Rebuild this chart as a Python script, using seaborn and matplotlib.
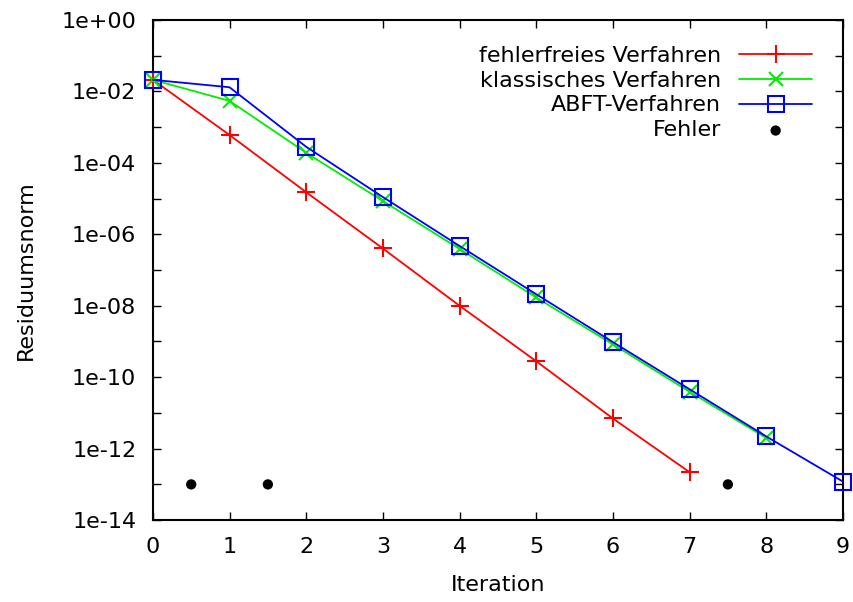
import numpy as np
import pandas as pd
import seaborn as sns
import matplotlib
matplotlib.use("Agg")
import matplotlib.pyplot as plt
from matplotlib.ticker import FixedLocator, FuncFormatter

# Data
iter_fehlerfrei = [0, 1, 2, 3, 4, 5, 6, 7]
res_fehlerfrei = [2.1e-2, 6e-4, 1.5e-5, 4e-7, 1e-8, 2.8e-10, 7e-12, 2.2e-13]

iter_klassisch = [0, 1, 2, 3, 4, 5, 6, 7, 8]
res_klassisch = [2.1e-2, 5.4e-3, 1.9e-4, 8.5e-6, 3.9e-7, 1.7e-8, 8.3e-10, 3.9e-11, 2.0e-12]

iter_abft = [0, 1, 2, 3, 4, 5, 6, 7, 8, 9]
res_abft = [2.1e-2, 1.3e-2, 2.8e-4, 1.1e-5, 4.7e-7, 2.1e-8, 9.6e-10, 4.6e-11, 2.2e-12, 1.2e-13]

iter_fehler = [0.5, 1.5, 7.5]
res_fehler = [1e-13, 1e-13, 1e-13]

sns.set_style("ticks")
plt.rcParams["font.family"] = ["DejaVu Sans"]
plt.rcParams.update({"text.color": "black", "axes.labelcolor": "black",
                     "xtick.color": "black", "ytick.color": "black"})
FS = 16

fig = plt.figure(figsize=(8.54, 6.02), dpi=100)
ax = fig.add_axes([0.179, 0.136, 0.808, 0.831])

red, green, blue = "#ff0000", "#00ee00", "#0000ff"
sns.lineplot(x=iter_fehlerfrei, y=res_fehlerfrei, ax=ax, color=red, marker="+",
             markersize=13, markeredgewidth=1.5, markeredgecolor=red, linewidth=1.3,
             clip_on=False, zorder=3, label="fehlerfreies Verfahren")
sns.lineplot(x=iter_klassisch, y=res_klassisch, ax=ax, color=green, marker="x",
             markersize=10, markeredgewidth=1.5, markeredgecolor=green, linewidth=1.3,
             clip_on=False, zorder=3, label="klassisches Verfahren")
sns.lineplot(x=iter_abft, y=res_abft, ax=ax, color=blue, marker="s",
             markersize=12, markerfacecolor="none", markeredgecolor=blue,
             markeredgewidth=1.5, linewidth=1.3, clip_on=False, zorder=3,
             label="ABFT-Verfahren")
sns.scatterplot(x=iter_fehler, y=res_fehler, ax=ax, color="black", s=55,
                edgecolor="none", label="Fehler")

ax.set_yscale("log")
ax.set_xlim(0, 9)
ax.set_ylim(1e-14, 1e0)
ax.set_xticks(range(0, 10))
ax.yaxis.set_major_locator(FixedLocator([10.0 ** e for e in range(0, -15, -2)]))
ax.yaxis.set_minor_locator(FixedLocator([10.0 ** e for e in range(-1, -14, -2)]))
ax.yaxis.set_major_formatter(FuncFormatter(lambda v, p: "1e%+03d" % round(np.log10(v))))
ax.yaxis.set_minor_formatter(FuncFormatter(lambda v, p: ""))

ax.tick_params(which="both", direction="in", top=True, right=True, labelsize=FS,
               width=1.0, length=6, pad=12)
for s in ax.spines.values():
    s.set_linewidth(1.5)
    s.set_color("black")

ax.set_xlabel("Iteration", fontsize=FS, labelpad=13)
ax.set_ylabel("Residuumsnorm", fontsize=FS, labelpad=18)

leg = ax.legend(loc="upper right", frameon=False, markerfirst=False, fontsize=FS,
                handlelength=3.3, handletextpad=0.8, labelspacing=0.22,
                bbox_to_anchor=(0.975, 0.975), borderaxespad=0.2)
for t in leg.get_texts():
    t.set_ha("right")
leg._legend_box.align = "right"

fig.savefig("out.png", dpi=100)
